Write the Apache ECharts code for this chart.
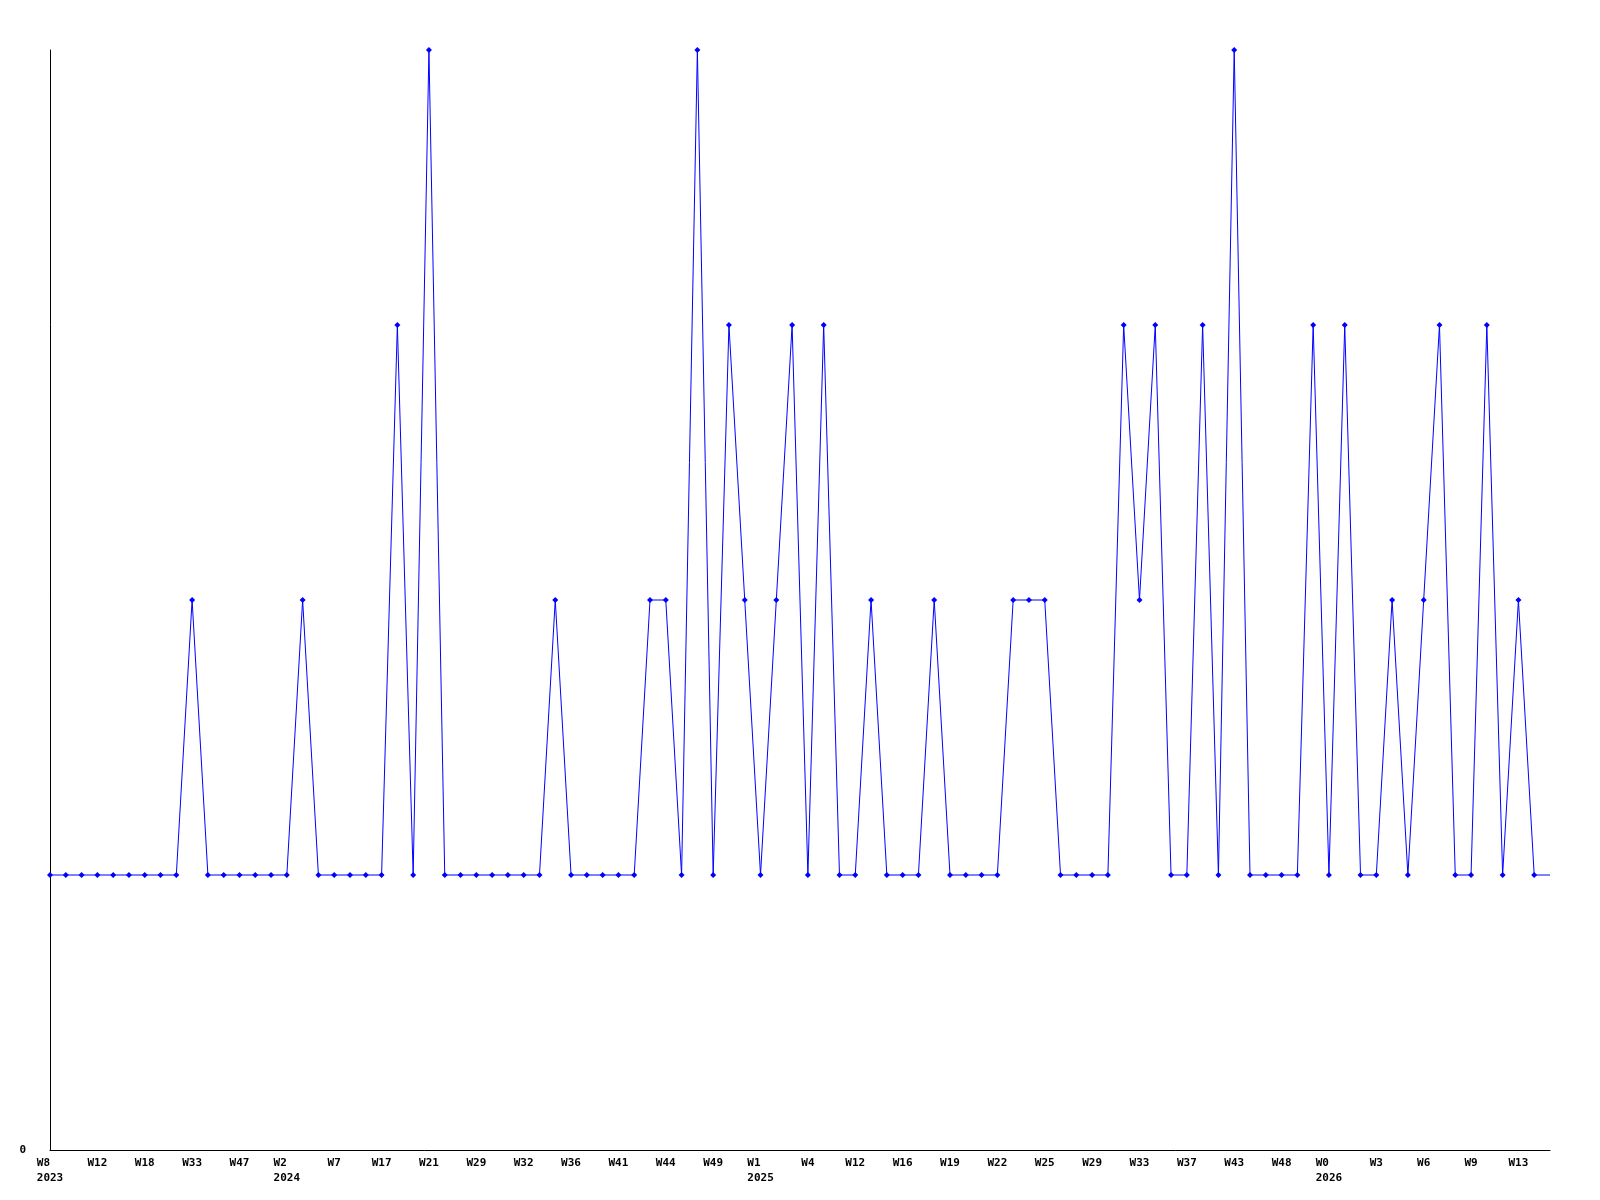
<!DOCTYPE html>
<html>
<head>
<meta charset="utf-8">
<script src="https://cdn.jsdelivr.net/npm/echarts@6/dist/echarts.min.js"></script>
<style>
  html, body { margin: 0; padding: 0; background: #ffffff; }
  #chart { width: 1600px; height: 1200px; }
</style>
</head>
<body>
<div id="chart"></div>
<script>
// Tick labels shown every 3rd point (week, optional year on second line)
const tickWeeks = ['W8','W12','W18','W33','W47','W2','W7','W17','W21','W29','W32','W36','W41','W44','W49','W1','W4','W12','W16','W19','W22','W25','W29','W33','W37','W43','W48','W0','W3','W6','W9','W13'];
const tickYears = ['2023','','','','','2024','','','','','','','','','','2025','','','','','','','','','','','','2026','','','',''];
const tickStep = 3;

// Series values, one per point (96 points)
const values = [
  1,1,1,1,1,1,1,1,1,2,
  1,1,1,1,1,1,2,1,1,1,
  1,1,3,1,4,1,1,1,1,1,
  1,1,2,1,1,1,1,1,2,2,
  1,4,1,3,2,1,2,3,1,3,
  1,1,2,1,1,1,2,1,1,1,
  1,2,2,2,1,1,1,1,3,2,
  3,1,1,3,1,4,1,1,1,1,
  3,1,3,1,1,2,1,2,3,1,
  1,3,1,2,1,1
];

const categories = values.map((v, i) => {
  if (i % tickStep !== 0) return '';
  const k = i / tickStep;
  if (k >= tickWeeks.length) return '';
  const w = tickWeeks[k], y = tickYears[k];
  if (!y) return w;
  // pad first line so both lines start at the same left edge (monospace)
  return w.padEnd(y.length, ' ') + '\n' + y;
});

const chart = echarts.init(document.getElementById('chart'), null, { renderer: 'canvas' });
const font = '"DejaVu Sans Mono", monospace';

chart.setOption({
  animation: false,
  backgroundColor: '#ffffff',
  grid: { left: 50, right: 50, top: 50, bottom: 50, containLabel: false },
  xAxis: {
    type: 'category',
    boundaryGap: false,
    data: categories,
    axisLine: { show: true, lineStyle: { color: '#000000', width: 1 } },
    axisTick: { show: false },
    splitLine: { show: false },
    axisLabel: {
      interval: 0,
      margin: 6,
      color: '#000000',
      fontFamily: font,
      fontWeight: 'bold',
      fontSize: 11,
      lineHeight: 14.5
    }
  },
  yAxis: {
    type: 'value',
    min: 0,
    max: 4,
    interval: 1,
    axisLine: { show: true, lineStyle: { color: '#000000', width: 1 } },
    axisTick: { show: false },
    splitLine: { show: false },
    axisLabel: {
      margin: 24,
      color: '#000000',
      fontFamily: font,
      fontWeight: 'bold',
      fontSize: 11,
      formatter: v => (v === 0 ? '0' : '')
    }
  },
  series: [{
    type: 'line',
    data: values.map((v, i) => (i === values.length - 1 ? { value: v, symbol: 'none' } : v)),
    symbol: 'diamond',
    symbolSize: 6,
    showAllSymbol: true,
    itemStyle: { color: '#0000ff' },
    lineStyle: { color: '#0000ff', width: 1 },
    emphasis: { disabled: true }
  }]
});
</script>
</body>
</html>
